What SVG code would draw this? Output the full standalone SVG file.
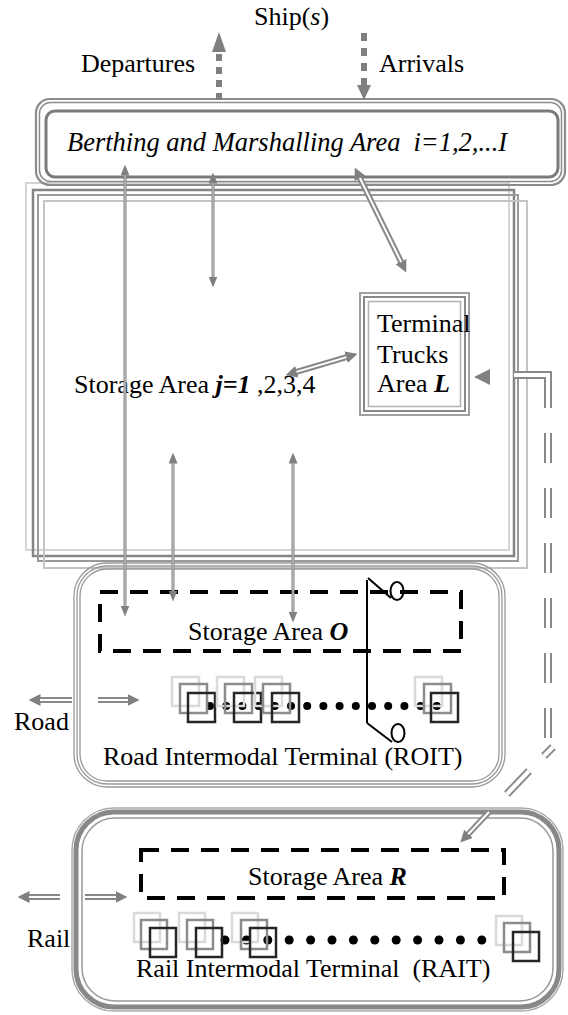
<svg xmlns="http://www.w3.org/2000/svg" width="568" height="1015" viewBox="0 0 568 1015">
<style>
.t{font-family:"Liberation Serif","Times New Roman",serif;font-size:26px;fill:#000}
.i{font-style:italic}
.bi{font-weight:bold;font-style:italic}
.nb{fill:none}
.sq{fill:none;stroke-width:2.5}
.dash{fill:none;stroke:#000;stroke-width:4;stroke-dasharray:18 12}
.ln{fill:none;stroke:#888;stroke-width:3}
.lnin{fill:none;stroke:#d8d8d8;stroke-width:0.8}
.dl{fill:none;stroke:#888;stroke-width:6}
.dlin{fill:none;stroke:#fff;stroke-width:2}
.cr{fill:none;stroke:#888;stroke-width:8}
.crin{fill:none;stroke:#fff;stroke-width:4}
.dot{fill:#000}
</style>
<defs>
<marker id="a1" viewBox="0 0 11 9" refX="0.5" refY="4.5" markerWidth="11" markerHeight="9" markerUnits="userSpaceOnUse" orient="auto-start-reverse"><path d="M0,0 L11,4.5 L0,9 z" fill="#808080"/></marker>
<marker id="a2" viewBox="0 0 12 12" refX="0.5" refY="6" markerWidth="12" markerHeight="12" markerUnits="userSpaceOnUse" orient="auto-start-reverse"><path d="M0,0 L12,6 L0,12 z" fill="#808080"/></marker>
</defs>
<rect width="568" height="1015" fill="#fff"/>

<g id="ship">
<text class="t" x="254" y="25">Ship(<tspan class="i">s</tspan>)</text>
<text class="t" x="81" y="72">Departures</text>
<text class="t" x="379" y="72">Arrivals</text>
</g>

<g id="storage-j">
<rect class="nb" x="26" y="183" width="483" height="367" stroke="#d4d4d4" stroke-width="2"/>
<rect class="nb" x="33" y="190" width="481" height="366" stroke="#858585" stroke-width="2.5"/>
<rect class="nb" x="38" y="195" width="480" height="366" stroke="#9a9a9a" stroke-width="2"/>
<rect class="nb" x="44" y="201" width="483" height="367" stroke="#c4c4c4" stroke-width="2"/>
<text class="t" x="74" y="393">Storage Area <tspan class="bi">j=1</tspan> ,2,3,4</text>
</g>

<g id="berthing">
<rect class="nb" x="36" y="99" width="529" height="86" rx="14" stroke="#8c8c8c" stroke-width="2.2"/>
<rect class="nb" x="39.5" y="102.5" width="522" height="79" rx="11" stroke="#8c8c8c" stroke-width="1.5"/>
<rect x="46" y="111" width="512" height="66" rx="9" fill="#fff" stroke="#7a7a7a" stroke-width="3"/>
<text class="t i" x="67" y="151" style="font-size:26.5px">Berthing and Marshalling Area<tspan dx="13">i=1,2,...I</tspan></text>
</g>

<g id="trucks">
<rect x="360" y="293" width="109" height="122" fill="#fff" stroke="#a0a0a0" stroke-width="2"/>
<rect class="nb" x="364" y="297" width="101" height="114" stroke="#888" stroke-width="2"/>
<rect class="nb" x="368.5" y="301.5" width="92" height="105" stroke="#b0b0b0" stroke-width="1.5"/>
<text class="t" x="377" y="332">Terminal</text>
<text class="t" x="377" y="363">Trucks</text>
<text class="t" x="377" y="392">Area <tspan class="bi">L</tspan></text>
</g>

<g id="roit">
<rect class="nb" x="74" y="563" width="431" height="224" rx="33" stroke="#999" stroke-width="1.3"/>
<rect class="nb" x="77" y="566" width="425" height="218" rx="30" stroke="#999" stroke-width="1.3"/>
<rect class="nb" x="80" y="569" width="419" height="212" rx="27" stroke="#999" stroke-width="1.3"/>
<text class="t" x="14" y="730">Road</text>
<g id="roit-dots">
<circle class="dot" cx="210" cy="706" r="4"/><circle class="dot" cx="226.2" cy="706" r="4"/><circle class="dot" cx="242.4" cy="706" r="4"/><circle class="dot" cx="258.6" cy="706" r="4"/><circle class="dot" cx="274.8" cy="706" r="4"/><circle class="dot" cx="291" cy="706" r="4"/><circle class="dot" cx="307.2" cy="706" r="4"/><circle class="dot" cx="323.4" cy="706" r="4"/><circle class="dot" cx="339.6" cy="706" r="4"/><circle class="dot" cx="355.8" cy="706" r="4"/><circle class="dot" cx="372" cy="706" r="4"/><circle class="dot" cx="388.2" cy="706" r="4"/><circle class="dot" cx="404.4" cy="706" r="4"/><circle class="dot" cx="420.6" cy="706" r="4"/><circle class="dot" cx="436.8" cy="706" r="4"/>
</g>
<g id="roit-cranes">
<rect class="sq" x="172" y="677" width="27" height="29" stroke="#dadada"/><rect class="sq" x="180" y="684" width="27" height="29" stroke="#8c8c8c"/><rect class="sq" x="188" y="693" width="27" height="29" stroke="#262626"/>
<rect class="sq" x="217" y="677" width="27" height="29" stroke="#dadada"/><rect class="sq" x="225" y="684" width="27" height="29" stroke="#8c8c8c"/><rect class="sq" x="234" y="693" width="27" height="29" stroke="#262626"/>
<rect class="sq" x="255" y="677" width="27" height="29" stroke="#dadada"/><rect class="sq" x="263" y="684" width="27" height="29" stroke="#8c8c8c"/><rect class="sq" x="272" y="693" width="27" height="29" stroke="#262626"/>
<rect class="sq" x="415" y="677" width="27" height="29" stroke="#dadada"/><rect class="sq" x="424" y="684" width="27" height="29" stroke="#8c8c8c"/><rect class="sq" x="431" y="693" width="27" height="29" stroke="#262626"/>
</g>
<g id="gate" fill="none" stroke="#000" stroke-width="2">
<path d="M367,580 V723"/>
<path d="M368,578 L391,598"/>
<ellipse cx="397" cy="591" rx="6.5" ry="9"/>
<path d="M367,723 L392,742"/>
<ellipse cx="398" cy="733" rx="6.5" ry="9"/>
</g>
<text class="t" x="103" y="765">Road Intermodal Terminal (ROIT)</text>
</g>

<g id="storage-o">
<rect class="dash" x="100" y="592" width="361" height="59"/>
<text class="t" x="188" y="640">Storage Area <tspan class="bi">O</tspan></text>
</g>

<g id="rait">
<rect class="nb" x="72" y="808" width="491" height="203" rx="42" stroke="#aaa" stroke-width="1.5"/>
<rect class="nb" x="76" y="812" width="483" height="195" rx="38" stroke="#888" stroke-width="5"/>
<rect class="nb" x="82" y="818" width="471" height="183" rx="33" stroke="#999" stroke-width="1.5"/>
<text class="t" x="27" y="947">Rail</text>
<g id="rait-dots">
<circle class="dot" cx="225" cy="940" r="4.5"/><circle class="dot" cx="246.4" cy="940" r="4.5"/><circle class="dot" cx="267.8" cy="940" r="4.5"/><circle class="dot" cx="289.2" cy="940" r="4.5"/><circle class="dot" cx="310.6" cy="940" r="4.5"/><circle class="dot" cx="332" cy="940" r="4.5"/><circle class="dot" cx="353.4" cy="940" r="4.5"/><circle class="dot" cx="374.8" cy="940" r="4.5"/><circle class="dot" cx="396.2" cy="940" r="4.5"/><circle class="dot" cx="417.6" cy="940" r="4.5"/><circle class="dot" cx="439" cy="940" r="4.5"/><circle class="dot" cx="460.4" cy="940" r="4.5"/><circle class="dot" cx="481.8" cy="940" r="4.5"/>
</g>
<g id="rait-cranes">
<rect class="sq" x="134" y="913" width="26" height="29" stroke="#dadada"/><rect class="sq" x="141" y="920" width="26" height="29" stroke="#8c8c8c"/><rect class="sq" x="150" y="928" width="26" height="29" stroke="#262626"/>
<rect class="sq" x="179" y="913" width="26" height="29" stroke="#dadada"/><rect class="sq" x="187" y="920" width="26" height="29" stroke="#8c8c8c"/><rect class="sq" x="196" y="928" width="26" height="29" stroke="#262626"/>
<rect class="sq" x="232" y="913" width="26" height="29" stroke="#dadada"/><rect class="sq" x="241" y="920" width="26" height="29" stroke="#8c8c8c"/><rect class="sq" x="250" y="928" width="26" height="29" stroke="#262626"/>
<rect class="sq" x="496" y="916" width="26" height="29" stroke="#dadada"/><rect class="sq" x="504" y="923" width="26" height="29" stroke="#8c8c8c"/><rect class="sq" x="513" y="932" width="26" height="29" stroke="#262626"/>
</g>
<text class="t" x="136" y="977">Rail Intermodal Terminal<tspan dx="13">(RAIT)</tspan></text>
</g>

<g id="storage-r">
<rect class="dash" x="141" y="850" width="363" height="48"/>
<text class="t" x="248" y="885">Storage Area <tspan class="bi">R</tspan></text>
</g>

<g id="connectors">
<path d="M219,100 V54" fill="none" stroke="#7f7f7f" stroke-width="6" stroke-dasharray="7 6"/>
<polygon points="219,32 212,52 226,52" fill="#7f7f7f"/>
<path d="M364,33 V85" fill="none" stroke="#7f7f7f" stroke-width="6" stroke-dasharray="8 7"/>
<polygon points="364,100 357,85 371,85" fill="#7f7f7f"/>
<path class="ln" d="M125,175 V606" marker-start="url(#a1)" marker-end="url(#a1)"/>
<path class="lnin" d="M125,175 V606"/>
<path class="ln" d="M213,183 V277" marker-start="url(#a1)" marker-end="url(#a1)"/>
<path class="lnin" d="M213,183 V277"/>
<path class="ln" d="M173,463 V591" marker-start="url(#a1)" marker-end="url(#a1)"/>
<path class="lnin" d="M173,463 V591"/>
<path class="ln" d="M293,463 V612" marker-start="url(#a1)" marker-end="url(#a1)"/>
<path class="lnin" d="M293,463 V612"/>
<path class="dl" d="M359.8,177.9 L401.2,262.1" stroke-width="5" marker-start="url(#a2)" marker-end="url(#a2)"/>
<path class="dlin" d="M359.8,177.9 L401.2,262.1" stroke-width="1.8"/>
<path class="dl" d="M296.5,371.9 L346.5,357.1" stroke-width="5" marker-start="url(#a2)" marker-end="url(#a2)"/>
<path class="dlin" d="M296.5,371.9 L346.5,357.1" stroke-width="1.8"/>
<path class="dl" d="M72,700 H40" marker-end="url(#a2)"/>
<path class="dlin" d="M72,700 H40"/>
<path class="dl" d="M98,700 H128" marker-end="url(#a2)"/>
<path class="dlin" d="M98,700 H128"/>
<path class="dl" d="M60,897 H29" marker-end="url(#a2)"/>
<path class="dlin" d="M60,897 H29"/>
<path class="dl" d="M85,897 H116" marker-end="url(#a2)"/>
<path class="dlin" d="M85,897 H116"/>
<polygon points="474,377 490,369 490,385" fill="#808080"/>
<path class="cr" d="M514,375 H548 V408"/>
<path class="crin" d="M514,375 H548 V408"/>
<path class="cr" d="M548,433 V463 M548,488 V518 M548,543 V573 M548,598 V628 M548,653 V683 M548,708 V738 M553,747 L544,756 M529,771 L507,794"/>
<path class="crin" d="M548,433 V463 M548,488 V518 M548,543 V573 M548,598 V628 M548,653 V683 M548,708 V738 M553,747 L544,756 M529,771 L507,794"/>
<path class="dl" d="M489,812 L468.2,834.2" marker-end="url(#a2)"/>
<path class="dlin" d="M489,812 L468.2,834.2"/>
</g>
</svg>
